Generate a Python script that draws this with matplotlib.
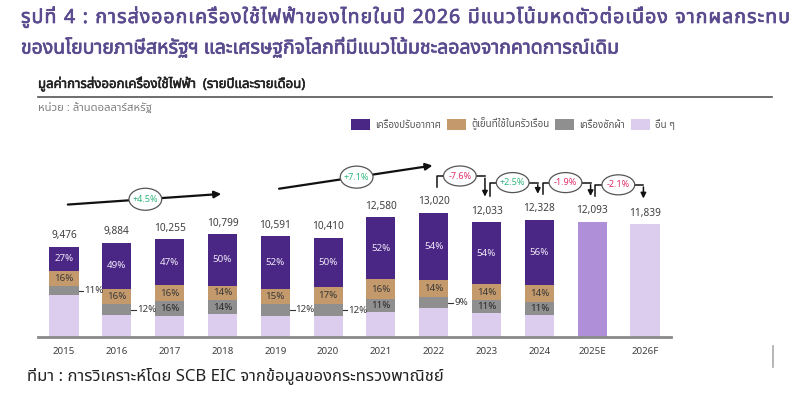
import unicodedata
import matplotlib
matplotlib.use('agg')
import matplotlib.pyplot as plt
import matplotlib.patheffects as pe
from matplotlib import font_manager as fm
from matplotlib.ft2font import FT2Font
from matplotlib.patches import Ellipse
import numpy as np

# ---- data ----
years = ['2015', '2016', '2017', '2018', '2019', '2020', '2021', '2022', '2023', '2024', '2025E', '2026F']
totals = [9476, 9884, 10255, 10799, 10591, 10410, 12580, 13020, 12033, 12328, 12093, 11839]
# shares (%) for actual years 2015-2024
share_ac = [27, 49, 47, 50, 52, 50, 52, 54, 54, 56]
share_fridge = [16, 16, 16, 14, 15, 17, 16, 14, 14, 14]
share_washer = [11, 12, 16, 14, 12, 12, 11, 9, 11, 11]
washer_label_outside = [True, True, False, False, True, True, False, True, False, False]
legend_labels = ['เครื่องปรับอากาศ', 'ตู้เย็นที่ใช้ในครัวเรือน', 'เครื่องซักผ้า', 'อื่น ๆ']
growth_long = [('+4.5%', 0, 3), ('+7.1%', 4, 7)]
growth_step = [('-7.6%', 7), ('+2.5%', 8), ('-1.9%', 9), ('-2.1%', 10)]

title1 = 'รูปที่ 4 : การส่งออกเครื่องใช้ไฟฟ้าของไทยในปี 2026 มีแนวโน้มหดตัวต่อเนื่อง จากผลกระทบ'
title2 = 'ของนโยบายภาษีสหรัฐฯ และเศรษฐกิจโลกที่มีแนวโน้มชะลอลงจากคาดการณ์เดิม'
subtitle = 'มูลค่าการส่งออกเครื่องใช้ไฟฟ้า  (รายปีและรายเดือน)'
unit = 'หน่วย : ล้านดอลลาร์สหรัฐ'
source = 'ที่มา : การวิเคราะห์โดย SCB EIC จากข้อมูลของกระทรวงพาณิชย์'

C_AC = '#4B2785'
C_FR = '#C4996B'
C_WA = '#8F8F8F'
C_OT = '#DCCDEF'
C_25 = '#AF8FD8'
C_TITLE = '#5A4A8E'
C_UP = '#2EB67D'
C_DN = '#E03068'


# ---- find a font with Thai glyphs ----
def thai_family():
    prefs = ['Noto Sans Thai', 'Tahoma', 'Leelawadee', 'Loma', 'Garuda', 'Sarabun',
             'Noto Sans Thai Looped', 'Kinnari', 'Norasi', 'Umpush']
    found = []
    for f in fm.fontManager.ttflist:
        try:
            cm = FT2Font(f.fname).get_charmap()
        except Exception:
            continue
        if 0x0E01 in cm and 0x0E40 in cm:
            found.append(f.name)
    for p in prefs:
        if p in found:
            return p
    return found[0] if found else None


th = thai_family()
fams = ([th] if th else []) + ['DejaVu Sans']
plt.rcParams['font.family'] = fams

fig = plt.figure(figsize=(8, 3.98), dpi=100)
W, H = 800, 398

# axes: x index -0.5..11.5 -> px 37.6..671.4, baseline at px 337
ax = fig.add_axes([37.6 / W, (H - 337) / H, 633.8 / W, 237 / H])
PXV = 105.0  # data units per pixel
ax.set_xlim(-0.5, 11.5)
ax.set_ylim(0, 237 * PXV)
for s in ['top', 'right', 'left']:
    ax.spines[s].set_visible(False)
ax.spines['bottom'].set_color('#8A8A8A')
ax.spines['bottom'].set_linewidth(2)
ax.set_yticks([])
x = np.arange(len(years))
ax.set_xticks(x)
ax.set_xticklabels(years, fontsize=7, color='#404040')
ax.tick_params(axis='x', length=0, pad=7)

bw = 0.55
n_act = len(share_ac)
tot_act = np.array(totals[:n_act], dtype=float)
ac = tot_act * np.array(share_ac) / 100
fr = tot_act * np.array(share_fridge) / 100
wa = tot_act * np.array(share_washer) / 100
ot = tot_act - ac - fr - wa
xa = x[:n_act]
ax.bar(xa, ot, bw, color=C_OT, label=legend_labels[3])
ax.bar(xa, wa, bw, bottom=ot, color=C_WA, label=legend_labels[2])
ax.bar(xa, fr, bw, bottom=ot + wa, color=C_FR, label=legend_labels[1])
ax.bar(xa, ac, bw, bottom=ot + wa + fr, color=C_AC, label=legend_labels[0])
ax.bar(x[n_act], totals[n_act], bw, color=C_25)
ax.bar(x[n_act + 1], totals[n_act + 1], bw, color=C_OT)

for i in range(n_act):
    ax.text(xa[i], ot[i] + wa[i] + fr[i] + ac[i] / 2, f'{share_ac[i]}%', ha='center', va='center',
            fontsize=7, color='#EEE6F6')
    ax.text(xa[i], ot[i] + wa[i] + fr[i] / 2, f'{share_fridge[i]}%', ha='center', va='center',
            fontsize=7, color='#3A3A3A')
    ym = ot[i] + wa[i] / 2
    if washer_label_outside[i]:
        ax.plot([xa[i] + bw / 2, xa[i] + bw / 2 + 0.09], [ym, ym], color='#333333', lw=0.8)
        ax.text(xa[i] + bw / 2 + 0.11, ym, f'{share_washer[i]}%', ha='left', va='center',
                fontsize=7, color='#3A3A3A')
    else:
        ax.text(xa[i], ym, f'{share_washer[i]}%', ha='center', va='center', fontsize=7, color='#2A2A2A')

for i, t in enumerate(totals):
    ax.annotate(f'{t:,}', (x[i], t), xytext=(0, 4), textcoords='offset points',
                ha='center', va='bottom', fontsize=7.3, color='#404040')


def bubble(cx, cy, txt, col, w=0.62, h=20):
    ax.add_patch(Ellipse((cx, cy), w, h * PXV, facecolor='white', edgecolor='#555555', lw=0.9, zorder=5))
    ax.text(cx, cy, txt, ha='center', va='center', fontsize=6.5, color=col, zorder=6)


# long growth arrows (start offset above first bar, rise in px)
long_geo = {0: (42, 11), 4: (47, 24)}
for txt, i0, i1 in growth_long:
    off, rise = long_geo[i0]
    y0 = totals[i0] + off * PXV
    y1 = y0 + rise * PXV
    ax.annotate('', xy=(x[i1] + 0.03, y1), xytext=(x[i0] + 0.02, y0),
                arrowprops=dict(arrowstyle='-|>', color='#111111', lw=1.6, mutation_scale=10))
    bubble((x[i0] + x[i1]) / 2 + 0.04, (y0 + y1) / 2, txt, C_UP, h=22)

# step connectors
for txt, i in growth_step:
    top = max(totals[i], totals[i + 1]) + 37 * PXV
    xs, xe = x[i] + 0.06, x[i + 1] - 0.03
    ax.plot([xs, xs, xe], [totals[i] + 26 * PXV, top, top], color='#111111', lw=1.1)
    ax.annotate('', xy=(xe, totals[i + 1] + 23 * PXV), xytext=(xe, top + 0.6 * PXV),
                arrowprops=dict(arrowstyle='-|>', color='#111111', lw=1.1, mutation_scale=8))
    bubble((xs + xe) / 2 - 0.02, top, txt, C_UP if txt.startswith('+') else C_DN)

# ---- header texts ----
bold_t = [pe.withStroke(linewidth=0.5, foreground=C_TITLE)]
tkw = dict(fontsize=14, fontweight='bold', color=C_TITLE, va='center', path_effects=bold_t)


def clusters(s):
    out = []
    for ch in s:
        if out and unicodedata.category(ch) == 'Mn':
            out[-1] += ch
        else:
            out.append(ch)
    return out


# first title line: Thai distributed justification across the full width
fig.canvas.draw()
rend = fig.canvas.get_renderer()
parts = clusters(title1)
ptexts = [fig.text(0, 1 - 18 / H, p, **tkw) for p in parts]
pw = []
for p, t in zip(parts, ptexts):
    if p == ' ':
        t.set_text('')
        pw.append(14 * 100 / 72 * 0.28)
    else:
        pw.append(t.get_window_extent(rend).width)
gap = (790 - 21 - sum(pw)) / (len(parts) - 1)
xp = 21
for t, wd in zip(ptexts, pw):
    t.set_x(xp / W)
    xp += wd + gap
fig.text(21 / W, 1 - 48 / H, title2, **tkw)

fig.text(38 / W, 1 - 84 / H, subtitle, fontsize=9.5, fontweight='bold', color='#222222', va='center',
         path_effects=[pe.withStroke(linewidth=0.4, foreground='#222222')])
fig.add_artist(plt.Line2D([38 / W, 772 / W], [1 - 97 / H, 1 - 97 / H], color='#555555', lw=1.2))
fig.text(38 / W, 1 - 108 / H, unit, fontsize=8.2, color='#808080', va='center')
fig.text(27 / W, 1 - 376 / H, source, fontsize=12, color='#222222', va='center')
fig.add_artist(plt.Line2D([773 / W, 773 / W], [1 - 346 / H, 1 - 367 / H], color='#AAAAAA', lw=1.2))

# legend
h, l = ax.get_legend_handles_labels()
order = [3, 2, 1, 0]
fig.legend([h[k] for k in order], [l[k] for k in order], loc='center left',
           bbox_to_anchor=(342 / W, 1 - 124 / H), ncol=4, frameon=False, fontsize=7,
           handlelength=2.0, handleheight=1.4, columnspacing=0.6, handletextpad=0.5,
           labelcolor='#555555')

fig.savefig('out.png', dpi=100)
